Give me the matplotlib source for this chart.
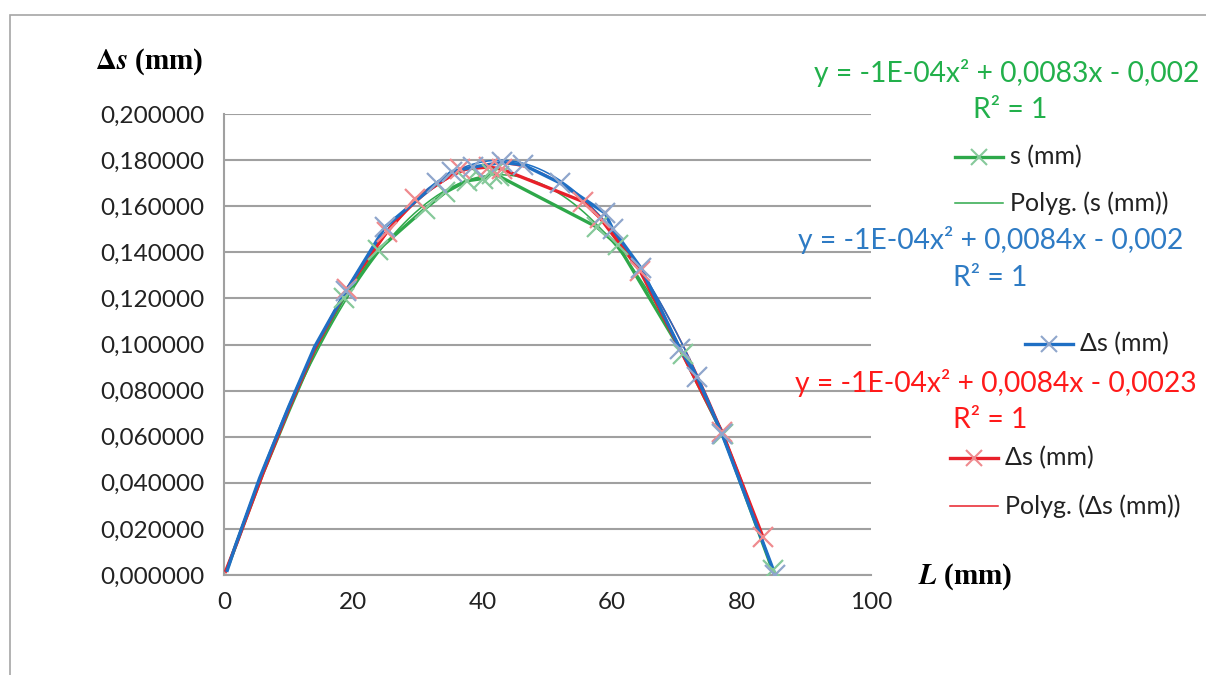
import numpy as np
import matplotlib.pyplot as plt
from matplotlib.lines import Line2D
from matplotlib.patches import Rectangle

# s (mm) - green series
s_x = [0.8, 2.5, 6.0, 10.0, 14.0, 18.5, 23.8, 31.1, 34.2, 37.5, 40.0, 41.4, 42.5, 57.6, 60.9, 70.9, 77.1, 84.8]
s_y = [0.005, 0.018, 0.044, 0.071, 0.097, 0.120, 0.141, 0.159, 0.166, 0.171, 0.172, 0.174, 0.173, 0.151, 0.143, 0.096, 0.061, 0.002]

# ds (mm) - blue series
b_x = [0.5, 1.8, 5.5, 10.0, 14.0, 18.8, 24.9, 32.9, 35.2, 38.5, 43.0, 46.2, 52.0, 58.9, 60.1, 64.5, 70.5, 73.1, 77.0, 85.2]
b_y = [0.002, 0.013, 0.042, 0.073, 0.099, 0.123, 0.151, 0.170, 0.175, 0.177, 0.179, 0.178, 0.170, 0.157, 0.150, 0.133, 0.098, 0.086, 0.061, 0.000]

# ds (mm) - red series
r_x = [0.3, 2.0, 6.0, 10.0, 14.0, 19.0, 25.2, 29.5, 36.5, 41.0, 43.0, 55.5, 58.1, 64.3, 77.0, 83.3]
r_y = [0.002, 0.014, 0.044, 0.072, 0.098, 0.124, 0.149, 0.163, 0.176, 0.177, 0.176, 0.162, 0.155, 0.132, 0.062, 0.0165]

yticks = [0, 0.02, 0.04, 0.06, 0.08, 0.10, 0.12, 0.14, 0.16, 0.18, 0.20]
xticks = [0, 20, 40, 60, 80, 100]

GREEN = '#2ea84a'
BLUE = '#1f6fc4'
RED = '#e8202a'
GREEN_M = '#86c99a'
BLUE_M = '#8fa6cc'
RED_M = '#ef8a8e'
EQ_GREEN = '#22b04b'
EQ_BLUE = '#2e7bc4'
EQ_RED = '#ff1a1a'

W, H = 1206, 675
plt.rcParams['font.family'] = ['Lato', 'DejaVu Sans']

fig = plt.figure(figsize=(W / 100, H / 100), dpi=100)


def px(x, y):
    return x / W, 1 - y / H


# outer chart frame
fig.add_artist(Rectangle(px(10, 700), (W + 20) / W, 685 / H, transform=fig.transFigure,
                         fill=False, edgecolor='#a6a6a6', linewidth=1.2))

l, b = px(224, 575)
r, t = px(871, 114)
ax = fig.add_axes([l, b, r - l, t - b])

series = [(s_x, s_y, GREEN, GREEN_M), (r_x, r_y, RED, RED_M), (b_x, b_y, BLUE, BLUE_M)]
for xs, ys, c, cm in series:
    coef = np.polyfit(xs, ys, 2)
    xx = np.linspace(min(xs), max(xs), 200)
    ax.plot(xx, np.polyval(coef, xx), color=c, lw=1.1, zorder=3)
for xs, ys, c, cm in series:
    ax.plot(xs, ys, color=c, lw=2.4, zorder=4)
    # markers near the origin are not visible in the original
    shown = [i for i, x in enumerate(xs) if x > 18]
    ax.plot(xs, ys, ls='none', marker='x', ms=14, mew=1.6, color=cm, zorder=5,
            markevery=shown)

ax.set_xlim(0, 100)
ax.set_ylim(0, 0.2)
ax.set_xticks(xticks)
ax.set_yticks(yticks)
ax.set_yticklabels([('%.6f' % v).replace('.', ',') for v in yticks])
ax.tick_params(length=0, labelsize=17.5, colors='#222222', pad=14)
ax.tick_params(axis='x', pad=12)
ax.grid(axis='y', color='#a0a0a0', lw=1.5)
ax.set_axisbelow(True)
for sp in ['top', 'right']:
    ax.spines[sp].set_visible(False)
for sp in ['left', 'bottom']:
    ax.spines[sp].set_color('#a0a0a0')
    ax.spines[sp].set_linewidth(1.5)

# axis titles
fig.text(*px(95, 62), r'$\mathbf{\Delta}\boldsymbol{s}$' + ' (mm)', fontsize=21, fontweight='bold',
         family='Liberation Serif', va='center', ha='left', math_fontfamily='stix')
fig.text(*px(918, 577), r'$\boldsymbol{L}$' + ' (mm)', fontsize=21, fontweight='bold',
         family='Liberation Serif', va='center', ha='left', math_fontfamily='stix')

# trendline equations
eqs = [
    (814, 73, 'y = -1E-04x² + 0,0083x - 0,002', 1010, 110, EQ_GREEN),
    (798, 240, 'y = -1E-04x² + 0,0084x - 0,002', 990, 278, EQ_BLUE),
    (795, 383, 'y = -1E-04x² + 0,0084x - 0,0023', 990, 420, EQ_RED),
]
for x0, y0, txt, xr, yr, c in eqs:
    fig.text(*px(x0, y0), txt, fontsize=20.3, color=c, va='center', ha='left')
    fig.text(*px(xr, yr), 'R² = 1', fontsize=20.3, color=c, va='center', ha='center')

# legend entries
legend = [
    (955, 157, 's (mm)', GREEN, GREEN_M, 2.4),
    (955, 203, 'Polyg. (s (mm))', GREEN, None, 1.1),
    (1025, 344, 'Δs (mm)', BLUE, BLUE_M, 2.4),
    (950, 458, 'Δs (mm)', RED, RED_M, 2.4),
    (950, 506, 'Polyg. (Δs (mm))', RED, None, 1.1),
]
for x0, y0, txt, c, cm, lw in legend:
    (xa, ya), (xb, _) = px(x0, y0), px(x0 + 48, y0)
    fig.add_artist(Line2D([xa, xb], [ya, ya], color=c, lw=lw, transform=fig.transFigure))
    if cm:
        fig.add_artist(Line2D([(xa + xb) / 2], [ya], ls='none', marker='x', ms=12, mew=1.5,
                              color=cm, transform=fig.transFigure))
    fig.text(*px(x0 + 55, y0), txt, fontsize=18, color='#222222', va='center', ha='left')

fig.savefig('out.png', dpi=100)
